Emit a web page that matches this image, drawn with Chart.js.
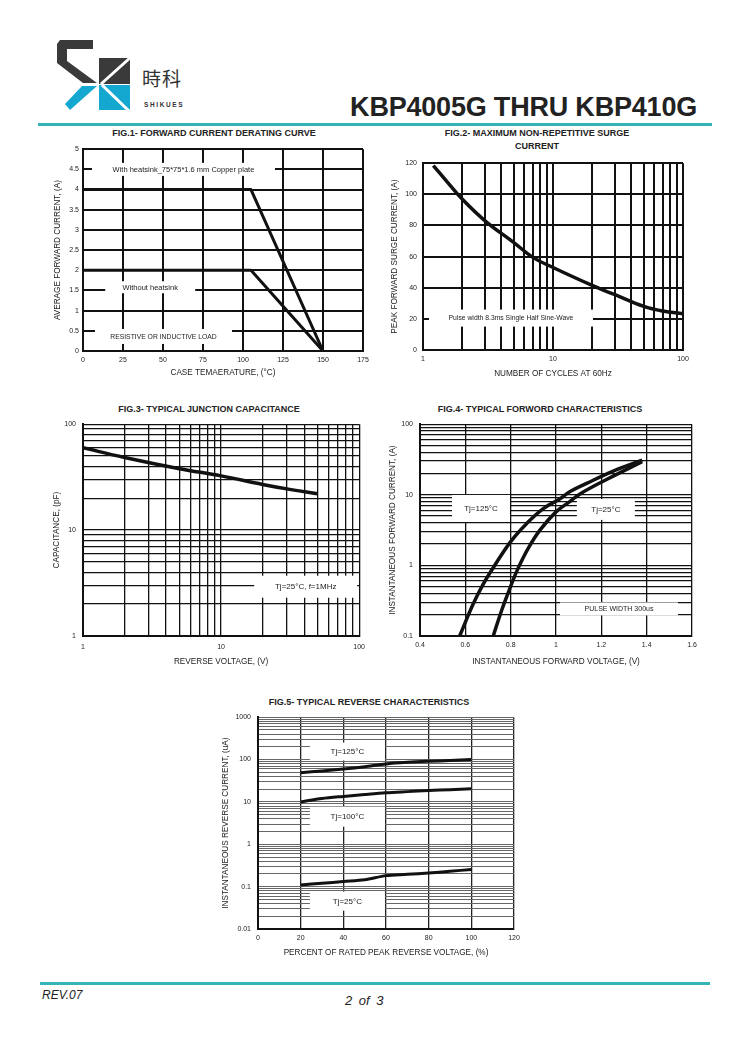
<!DOCTYPE html>
<html>
<head>
<meta charset="utf-8">
<title>KBP4005G THRU KBP410G</title>
<script src="https://cdn.jsdelivr.net/npm/chart.js@4.4.1/dist/chart.umd.min.js"></script>
<style>
  body { margin: 0; background: #fff; font-family: "Liberation Sans", Arial, sans-serif; color: #222; }
  #page { position: relative; width: 750px; height: 1061px; overflow: hidden; }
  canvas { position: absolute; }
  .rule { position: absolute; height: 3px; background: #34b4b6; }
  .figtitle { position: absolute; font-weight: bold; font-size: 9px; line-height: 12.5px;
              transform: translate(-50%, -50%); white-space: nowrap; text-align: center; color: #222; }
  #partno { position: absolute; right: 53px; top: 92px; font-size: 27px; font-weight: bold; color: #222; letter-spacing: -0.2px; }
  #brandcn { position: absolute; left: 142px; top: 64px; font-family: "Noto Sans CJK TC", "Noto Sans CJK SC", sans-serif;
             font-size: 19px; color: #333; letter-spacing: 1px; }
  #brand { position: absolute; left: 144px; top: 101px; font-size: 6.5px; font-weight: bold; letter-spacing: 1.6px; color: #333; }
  .foot { position: absolute; font-style: italic; color: #222; }
</style>
</head>
<body>
<div id="page">
  <svg style="position:absolute;left:0;top:0" width="140" height="120">
    <polygon points="60,40 93,40 93,49 67,49 67,61 97,83 83,83 57,63 57,44" fill="#3a3a3a"/>
    <polygon points="82,86 97,86 70,110 65,104" fill="#14a7cf"/>
    <rect x="99" y="58" width="31" height="26" fill="#3a3a3a"/>
    <rect x="99" y="85" width="31" height="25" fill="#14a7cf"/>
    <line x1="101" y1="84" x2="131" y2="57" stroke="#fff" stroke-width="3"/>
    <line x1="102" y1="85" x2="129" y2="111" stroke="#fff" stroke-width="3"/>
  </svg>
  <div id="brandcn">時科</div>
  <div id="brand">SHIKUES</div>
  <div id="partno">KBP4005G THRU KBP410G</div>
  <div class="rule" style="left:38px;top:123px;width:674px"></div>

  <div class="figtitle" style="left:214px;top:133px">FIG.1- FORWARD CURRENT DERATING CURVE</div>
  <div class="figtitle" style="left:537px;top:139px">FIG.2- MAXIMUM NON-REPETITIVE SURGE<br>CURRENT</div>
  <div class="figtitle" style="left:209px;top:409px">FIG.3- TYPICAL JUNCTION CAPACITANCE</div>
  <div class="figtitle" style="left:540px;top:409px">FIG.4- TYPICAL FORWORD CHARACTERISTICS</div>
  <div class="figtitle" style="left:369px;top:702px">FIG.5- TYPICAL REVERSE CHARACTERISTICS</div>

  <canvas id="fig1" width="321" height="236" style="left:54px;top:141px"></canvas>
  <canvas id="fig2" width="304" height="225" style="left:391px;top:153px"></canvas>
  <canvas id="fig3" width="319" height="253" style="left:53px;top:413px"></canvas>
  <canvas id="fig4" width="315" height="253" style="left:389px;top:413px"></canvas>
  <canvas id="fig5" width="304" height="251" style="left:222px;top:706px"></canvas>

  <div class="rule" style="left:40px;top:982px;width:670px"></div>
  <div class="foot" style="left:42px;top:988px;font-size:12px">REV.07</div>
  <div class="foot" style="left:345px;top:993px;font-size:13px;word-spacing:3px">2 of 3</div>
</div>

<script>
// Fig.1 forward current derating curve
const fig1Temp = [0, 105, 150];
const fig1WithHeatsink = [4, 4, 0];
const fig1WithoutHeatsink = [2, 2, 0];
const fig1XTicks = [0, 25, 50, 75, 100, 125, 150, 175];
const fig1YTicks = [0, 0.5, 1, 1.5, 2, 2.5, 3, 3.5, 4, 4.5, 5];

// Fig.2 max non-repetitive surge current
const fig2Cycles = [1.2, 1.5, 2, 3, 5, 7, 10, 20, 30, 50, 70, 100];
const fig2Surge = [118.5, 109, 97, 83, 69, 59.5, 53, 41.5, 35.5, 28, 25, 23.3];
const fig2XLabels = [1, 10, 100];
const fig2YTicks = [0, 20, 40, 60, 80, 100, 120];

// Fig.3 junction capacitance
const fig3Voltage = [1, 2, 5, 10, 20, 30, 50];
const fig3Cap = [60, 48.5, 38, 32.5, 27, 24.5, 22];
const fig3XLabels = [1, 10, 100];
const fig3YLabels = [1, 10, 100];

// Fig.4 forward characteristics
const fig4Volt125 = [0.575, 0.635, 0.679, 0.723, 0.801, 0.871, 0.944, 1.018, 1.062, 1.135, 1.25, 1.38];
const fig4Amp125 = [0.1, 0.286, 0.543, 0.927, 2.19, 3.93, 6.37, 8.79, 11.1, 14.5, 21.5, 31];
const fig4Volt25 = [0.723, 0.76, 0.801, 0.834, 0.878, 0.93, 1.0, 1.062, 1.106, 1.225, 1.38];
const fig4Amp25 = [0.1, 0.23, 0.515, 0.93, 1.76, 3.18, 5.73, 8.07, 10.3, 16.6, 29.5];
const fig4XTicks = [0.4, 0.6, 0.8, 1, 1.2, 1.4, 1.6];
const fig4YLabels = [0.1, 1, 10, 100];

// Fig.5 reverse characteristics
const fig5Percent = [20, 30, 40, 50, 60, 70, 80, 90, 100];
const fig5Tj125 = [49, 54, 60, 68, 79, 86, 91, 95, 100];
const fig5Tj100 = [10, 12, 13.5, 15, 16.5, 17.5, 18.5, 19.5, 20.5];
const fig5Tj25 = [0.11, 0.12, 0.132, 0.145, 0.182, 0.195, 0.21, 0.23, 0.255];
const fig5XTicks = [0, 20, 40, 60, 80, 100, 120];
const fig5YLabels = [0.01, 0.1, 1, 10, 100, 1000];

Chart.defaults.font.family = '"Liberation Sans", Arial, sans-serif';
Chart.defaults.color = '#222';

function pts(xs, ys) {
  return xs.map((x, i) => ({ x: x, y: ys[i] }));
}

// 1,2,...,9 per decade for log grid lines
function logGrid(min, max) {
  const out = [];
  for (let e = Math.round(Math.log10(min)); e < Math.round(Math.log10(max)); e++) {
    for (let m = 1; m < 10; m++) out.push(+(m * Math.pow(10, e)).toPrecision(3));
  }
  out.push(max);
  return out;
}

function axis(type, min, max, gridValues, labelValues, title, size, pad, grid) {
  return {
    type: type,
    min: min,
    max: max,
    afterBuildTicks: s => { s.ticks = gridValues.map(v => ({ value: v })); },
    afterFit: s => { if (s.isHorizontal()) s.height = size; else s.width = size; },
    ticks: {
      autoSkip: false, maxRotation: 0, padding: pad, color: '#222',
      font: { size: 7 },
      callback: v => labelValues.includes(v) ? String(v) : ''
    },
    grid: { color: grid.color, lineWidth: grid.width, drawTicks: false },
    border: { color: '#111', width: 2 },
    title: { display: true, text: title, color: '#222', padding: 0, font: { size: 8.2, lineHeight: 1 } }
  };
}

// white label boxes that cut the grid, placed in data coordinates
const noteBoxes = {
  id: 'noteBoxes',
  beforeDatasetsDraw(chart, args, opts) {
    const ctx = chart.ctx;
    const x = chart.scales.x, y = chart.scales.y;
    (opts.items || []).forEach(n => {
      const cx = x.getPixelForValue(n.x);
      const cy = y.getPixelForValue(n.y);
      ctx.save();
      ctx.fillStyle = '#fff';
      ctx.fillRect(cx - n.w / 2, cy - n.h / 2, n.w, n.h);
      ctx.fillStyle = '#222';
      ctx.font = (n.size || 7.5) + 'px "Liberation Sans", Arial, sans-serif';
      ctx.textAlign = 'center';
      ctx.textBaseline = 'middle';
      ctx.fillText(n.text, cx, cy + 0.5);
      ctx.restore();
    });
  }
};

function curve(data, width, tension) {
  return {
    data: data, showLine: true, borderColor: '#111', borderWidth: width,
    pointRadius: 0, tension: tension, borderJoinStyle: 'round', borderCapStyle: 'butt'
  };
}

function makeChart(id, datasets, scales, notes) {
  return new Chart(document.getElementById(id), {
    type: 'scatter',
    data: { datasets: datasets },
    options: {
      responsive: false,
      animation: false,
      layout: { padding: { left: 0, bottom: 0, top: 8, right: 12 } },
      plugins: {
        legend: { display: false },
        tooltip: { enabled: false },
        noteBoxes: { items: notes }
      },
      scales: scales
    },
    plugins: [noteBoxes]
  });
}

const heavyGrid = { color: '#111', width: 2 };
const fineGrid = { color: '#111', width: 1.3 };

makeChart('fig1',
  [curve(pts(fig1Temp, fig1WithHeatsink), 3, 0), curve(pts(fig1Temp, fig1WithoutHeatsink), 3, 0)],
  {
    x: axis('linear', 0, 175, fig1XTicks, fig1XTicks, 'CASE TEMAERATURE, (\u00B0C)', 26, 5, heavyGrid),
    y: axis('linear', 0, 5, fig1YTicks, fig1YTicks, 'AVERAGE FORWARD CURRENT, (A)', 29, 4, heavyGrid)
  },
  [
    { text: 'With heatsink_75*75*1.6 mm Copper plate', x: 62.8, y: 4.5, w: 183, h: 13 },
    { text: 'Without heatsink', x: 42, y: 1.58, w: 90, h: 12 },
    { text: 'RESISTIVE OR INDUCTIVE LOAD', x: 50.3, y: 0.36, w: 137, h: 15, size: 6.8 }
  ]);

makeChart('fig2',
  [curve(pts(fig2Cycles, fig2Surge), 3.5, 0.4)],
  {
    x: axis('logarithmic', 1, 100, logGrid(1, 100), fig2XLabels, 'NUMBER OF CYCLES AT 60Hz', 28, 5, heavyGrid),
    y: axis('linear', 0, 120, fig2YTicks, fig2YTicks, 'PEAK FORWARD SURGE CURRENT, (A)', 32, 6, heavyGrid)
  },
  [
    { text: 'Pulse width 8.3ms Single Half Sine-Wave', x: 4.75, y: 20.5, w: 164, h: 17, size: 6.8 }
  ]);

makeChart('fig3',
  [curve(pts(fig3Voltage, fig3Cap), 3.5, 0.4)],
  {
    x: axis('logarithmic', 1, 100, logGrid(1, 100), fig3XLabels, 'REVERSE VOLTAGE, (V)', 30, 7, fineGrid),
    y: axis('logarithmic', 1, 100, logGrid(1, 100), fig3YLabels, 'CAPACITANCE, (pF)', 30, 7, fineGrid)
  },
  [
    { text: 'Tj=25\u00B0C, f=1MHz', x: 41, y: 2.92, w: 103, h: 22, size: 8 }
  ]);

makeChart('fig4',
  [curve(pts(fig4Volt125, fig4Amp125), 3.5, 0.4), curve(pts(fig4Volt25, fig4Amp25), 3.5, 0.4)],
  {
    x: axis('linear', 0.4, 1.6, fig4XTicks, fig4XTicks, 'INSTANTANEOUS FORWARD VOLTAGE, (V)', 30, 5, fineGrid),
    y: axis('logarithmic', 0.1, 100, logGrid(0.1, 100), fig4YLabels, 'INSTANTANEOUS FORWARD CURRENT, (A)', 31, 7, fineGrid)
  },
  [
    { text: 'Tj=125\u00B0C', x: 0.669, y: 6.41, w: 58, h: 27, size: 8 },
    { text: 'Tj=25\u00B0C', x: 1.22, y: 6.21, w: 58, h: 21, size: 8 },
    { text: 'PULSE WIDTH 300us', x: 1.278, y: 0.242, w: 118, h: 13, size: 7 }
  ]);

makeChart('fig5',
  [curve(pts(fig5Percent, fig5Tj125), 3, 0.3), curve(pts(fig5Percent, fig5Tj100), 3, 0.3), curve(pts(fig5Percent, fig5Tj25), 3, 0.3)],
  {
    x: axis('linear', 0, 120, fig5XTicks, fig5XTicks, 'PERCENT OF RATED PEAK REVERSE VOLTAGE, (%)', 28, 5, { color: '#222', width: 1.3 }),
    y: axis('logarithmic', 0.01, 1000, logGrid(0.01, 1000), fig5YLabels, 'INSTANTANEOUS REVERSE CURRENT, (uA)', 36, 7, { color: '#666', width: 1 })
  },
  [
    { text: 'Tj=125\u00B0C', x: 41.9, y: 155, w: 75, h: 18, size: 8 },
    { text: 'Tj=100\u00B0C', x: 41.9, y: 4.49, w: 75, h: 20, size: 8 },
    { text: 'Tj=25\u00B0C', x: 41.9, y: 0.0455, w: 75, h: 19, size: 8 }
  ]);
</script>
</body>
</html>
